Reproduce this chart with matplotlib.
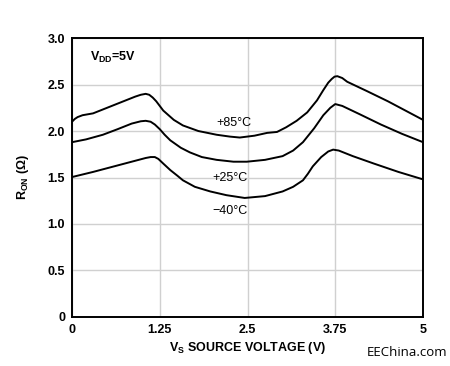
import matplotlib
matplotlib.use("Agg")
import matplotlib.pyplot as plt

plt.rcParams['font.family'] = ['Liberation Sans', 'DejaVu Sans']
plt.rcParams['mathtext.fontset'] = 'custom'
plt.rcParams['mathtext.rm'] = 'Liberation Sans'
plt.rcParams['mathtext.bf'] = 'Liberation Sans:bold'

vs_85 = [0.0, 0.04, 0.08, 0.15, 0.3, 0.5, 0.7, 0.9, 0.98, 1.05, 1.1, 1.15, 1.2, 1.3, 1.45, 1.58, 1.8, 2.06, 2.25, 2.39, 2.6, 2.78, 2.92, 3.05, 3.2, 3.35, 3.49, 3.58, 3.65, 3.7, 3.74, 3.78, 3.85, 3.92, 4.2, 4.5, 4.75, 5.0]
r_85 = [2.10, 2.13, 2.15, 2.17, 2.19, 2.25, 2.31, 2.37, 2.39, 2.40, 2.39, 2.36, 2.32, 2.22, 2.12, 2.06, 2.00, 1.96, 1.94, 1.93, 1.95, 1.98, 1.99, 2.04, 2.11, 2.20, 2.33, 2.44, 2.52, 2.56, 2.585, 2.59, 2.57, 2.53, 2.43, 2.32, 2.22, 2.12]

vs_25 = [0.0, 0.2, 0.44, 0.65, 0.85, 0.98, 1.05, 1.12, 1.18, 1.25, 1.32, 1.4, 1.55, 1.68, 1.85, 2.06, 2.3, 2.49, 2.75, 3.0, 3.15, 3.29, 3.45, 3.58, 3.68, 3.75, 3.85, 4.1, 4.4, 4.7, 5.0]
r_25 = [1.88, 1.91, 1.96, 2.02, 2.08, 2.105, 2.11, 2.10, 2.07, 2.02, 1.96, 1.90, 1.82, 1.77, 1.72, 1.69, 1.67, 1.67, 1.69, 1.73, 1.79, 1.88, 2.03, 2.17, 2.25, 2.29, 2.27, 2.18, 2.07, 1.97, 1.88]

vs_40 = [0.0, 0.3, 0.6, 0.9, 1.05, 1.12, 1.18, 1.23, 1.3, 1.4, 1.5, 1.58, 1.75, 1.97, 2.2, 2.46, 2.75, 3.0, 3.15, 3.29, 3.36, 3.43, 3.55, 3.65, 3.72, 3.8, 4.0, 4.3, 4.65, 5.0]
r_40 = [1.505, 1.56, 1.62, 1.68, 1.71, 1.72, 1.72, 1.70, 1.65, 1.58, 1.52, 1.47, 1.40, 1.35, 1.31, 1.28, 1.30, 1.35, 1.40, 1.47, 1.54, 1.62, 1.72, 1.78, 1.80, 1.79, 1.73, 1.65, 1.56, 1.48]

xticks = [0, 1.25, 2.5, 3.75, 5]
xtick_labels = ['0', '1.25', '2.5', '3.75', '5']
yticks = [0, 0.5, 1.0, 1.5, 2.0, 2.5, 3.0]
ytick_labels = ['0', '0.5', '1.0', '1.5', '2.0', '2.5', '3.0']

fig = plt.figure(figsize=(4.5, 3.66), dpi=100)
ax = fig.add_axes([0.16, 0.134, 0.78, 0.762])

for v, r in [(vs_85, r_85), (vs_25, r_25), (vs_40, r_40)]:
    ax.plot(v, r, color='black', lw=1.4, zorder=3, solid_joinstyle='round')

ax.set_xlim(0, 5)
ax.set_ylim(0, 3.0)
ax.set_xticks(xticks)
ax.set_xticklabels(xtick_labels, fontsize=9, fontweight='bold')
ax.set_yticks(yticks)
ax.set_yticklabels(ytick_labels, fontsize=9, fontweight='bold')
ax.tick_params(length=0, pad=5)
ax.grid(True, color='#d0d0d0', lw=1.0, zorder=0)
for s in ax.spines.values():
    s.set_linewidth(1.4)
    s.set_color('black')

ax.text(2.30, 2.09, '+85°C', fontsize=9, ha='center', va='center')
ax.text(2.25, 1.49, '+25°C', fontsize=9, ha='center', va='center')
ax.text(2.25, 1.14, '−40°C', fontsize=9, ha='center', va='center')
ax.text(0.25, 2.79, r'$\mathbf{V_{DD}}$=5V', fontsize=9, fontweight='bold', ha='left', va='center')

ax.set_xlabel(r'$\mathbf{V_S}$ SOURCE VOLTAGE (V)', fontsize=9, fontweight='bold', labelpad=3)
ax.set_ylabel(r'$\mathbf{R_{ON}}$ (Ω)', fontsize=9, fontweight='bold', labelpad=12)

fig.text(0.905, 0.038, 'EEChina.com', fontsize=9.5, ha='center', va='center', family=['Open Sans', 'DejaVu Sans'])

fig.savefig('out.png', dpi=100)
